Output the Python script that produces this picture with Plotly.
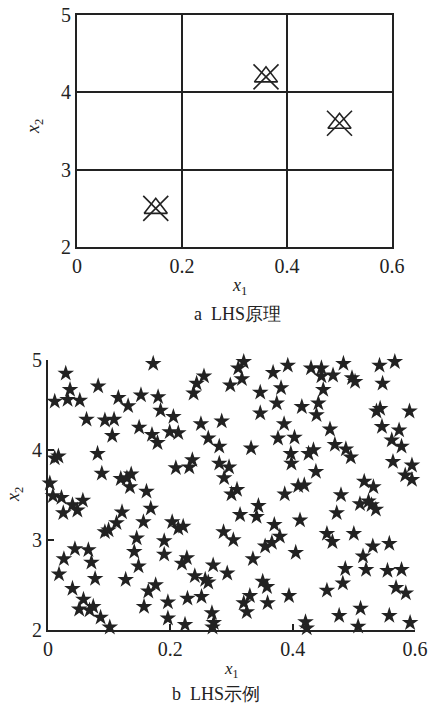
import plotly.graph_objects as go

# ---- panel a: LHS principle ----
a_x = [0.15, 0.36, 0.50]
a_y = [2.5, 4.2, 3.6]
a_xticks = [0, 0.2, 0.4, 0.6]
a_yticks = [2, 3, 4, 5]

# ---- panel b: LHS sample ----
b_x = [0.029, 0.082, 0.036, 0.011, 0.032, 0.052, 0.115, 0.063, 0.093, 0.108,
       0.105, 0.011, 0.017, 0.081, 0.088, 0.003, 0.008, 0.022, 0.040, 0.057,
       0.048, 0.025, 0.093, 0.099, 0.112, 0.044, 0.066, 0.026, 0.071, 0.018,
       0.077, 0.040, 0.058, 0.051, 0.068, 0.074, 0.086, 0.101,
       0.172, 0.131, 0.152, 0.180, 0.184, 0.205, 0.149, 0.170, 0.179, 0.199,
       0.213, 0.236, 0.231, 0.209, 0.119, 0.129, 0.136, 0.134, 0.161, 0.168,
       0.121, 0.156, 0.203, 0.213, 0.221, 0.145, 0.190, 0.141, 0.190, 0.148,
       0.219, 0.227, 0.127, 0.176, 0.164, 0.157, 0.196, 0.228, 0.196, 0.224,
       0.311, 0.320, 0.317, 0.298, 0.255, 0.243, 0.238, 0.347, 0.347, 0.250,
       0.284, 0.262, 0.280, 0.332, 0.280, 0.296, 0.288, 0.309, 0.300, 0.344,
       0.341, 0.314, 0.287, 0.303, 0.355, 0.335, 0.270, 0.293, 0.240, 0.257,
       0.262, 0.351, 0.358, 0.251, 0.330, 0.320, 0.325, 0.359, 0.268, 0.271,
       0.269,
       0.368, 0.392, 0.430, 0.447, 0.447, 0.466, 0.483, 0.381, 0.450, 0.374,
       0.415, 0.442, 0.439, 0.386, 0.461, 0.376, 0.403, 0.469, 0.487, 0.397,
       0.398, 0.426, 0.434, 0.438, 0.409, 0.419, 0.387, 0.479, 0.472, 0.412,
       0.370, 0.379, 0.366, 0.456, 0.465, 0.405, 0.486, 0.482, 0.394, 0.456,
       0.476, 0.421, 0.423,
       0.542, 0.567, 0.497, 0.502, 0.547, 0.537, 0.543, 0.591, 0.546, 0.574,
       0.562, 0.578, 0.495, 0.564, 0.595, 0.584, 0.595, 0.517, 0.532, 0.510,
       0.524, 0.529, 0.536, 0.500, 0.531, 0.558, 0.515, 0.520, 0.555, 0.578,
       0.569, 0.585, 0.511, 0.558, 0.507, 0.592]
b_y = [4.85, 4.71, 4.67, 4.54, 4.56, 4.55, 4.58, 4.34, 4.33, 4.34,
       4.16, 3.91, 3.93, 3.96, 3.74, 3.63, 3.49, 3.47, 3.39, 3.44,
       3.33, 3.30, 3.09, 3.11, 3.19, 2.90, 2.89, 2.79, 2.75, 2.62,
       2.57, 2.46, 2.34, 2.23, 2.22, 2.26, 2.14, 2.03,
       4.96, 4.49, 4.61, 4.59, 4.44, 4.37, 4.25, 4.17, 4.08, 4.20,
       4.19, 3.89, 3.81, 3.80, 3.68, 3.69, 3.73, 3.59, 3.54, 3.35,
       3.31, 3.20, 3.20, 3.13, 3.15, 3.02, 2.99, 2.87, 2.84, 2.71,
       2.74, 2.80, 2.56, 2.50, 2.43, 2.26, 2.31, 2.35, 2.13, 2.06,
       4.91, 4.98, 4.79, 4.72, 4.82, 4.74, 4.63, 4.64, 4.41, 4.29,
       4.32, 4.13, 4.04, 4.02, 3.85, 3.81, 3.69, 3.56, 3.51, 3.38,
       3.26, 3.28, 3.09, 3.00, 2.93, 2.79, 2.72, 2.63, 2.60, 2.56,
       2.53, 2.54, 2.48, 2.37, 2.38, 2.30, 2.20, 2.30, 2.19, 2.08,
       2.03,
       4.86, 4.94, 4.91, 4.91, 4.82, 4.83, 4.96, 4.69, 4.67, 4.52,
       4.48, 4.52, 4.39, 4.29, 4.23, 4.13, 4.14, 4.06, 4.01, 3.96,
       3.85, 3.96, 4.00, 3.76, 3.60, 3.61, 3.51, 3.50, 3.30, 3.22,
       3.17, 3.04, 2.97, 3.07, 2.98, 2.86, 2.68, 2.52, 2.38, 2.44,
       2.16, 2.09, 2.02,
       4.94, 4.98, 4.80, 4.76, 4.74, 4.43, 4.46, 4.43, 4.26, 4.22,
       4.11, 4.04, 3.92, 3.87, 3.83, 3.72, 3.67, 3.65, 3.59, 3.40,
       3.43, 3.39, 3.34, 3.07, 2.93, 2.96, 2.82, 2.67, 2.66, 2.67,
       2.47, 2.41, 2.24, 2.16, 2.04, 2.08]
b_xticks = [0, 0.2, 0.4, 0.6]
b_yticks = [2, 3, 4, 5]

W, H = 428, 707
INK = "#222222"
FONT = "Liberation Serif"

fig = go.Figure()

# panel a markers: triangle + cross
fig.add_trace(go.Scatter(x=a_x, y=a_y, mode="markers", xaxis="x", yaxis="y",
                         marker=dict(symbol="triangle-up-open", size=20,
                                     color=INK, line=dict(width=1.6, color=INK)),
                         showlegend=False, cliponaxis=False))
fig.add_trace(go.Scatter(x=a_x, y=a_y, mode="markers", xaxis="x", yaxis="y",
                         marker=dict(symbol="x-thin-open", size=25,
                                     color=INK, line=dict(width=1.6, color=INK)),
                         showlegend=False, cliponaxis=False))

# panel b stars
fig.add_trace(go.Scatter(x=b_x, y=b_y, mode="markers", xaxis="x2", yaxis="y2",
                         marker=dict(symbol="star", size=12.5, color=INK,
                                     line=dict(width=0)),
                         showlegend=False, cliponaxis=False))

def px2paper_x(p):
    return p / W

def px2paper_y(p):
    return 1 - p / H

tickfont = dict(family=FONT, size=20, color=INK)

fig.update_layout(
    width=W, height=H,
    margin=dict(l=0, r=0, t=0, b=0, autoexpand=False),
    paper_bgcolor="white", plot_bgcolor="white",
    font=dict(family=FONT, color=INK),
    xaxis=dict(domain=[px2paper_x(77), px2paper_x(392)], range=[0, 0.6],
               tickvals=a_xticks, ticktext=["0", "0.2", "0.4", "0.6"],
               showline=True, linecolor=INK, linewidth=2, mirror=True,
               showgrid=True, gridcolor=INK, gridwidth=2, zeroline=False,
               ticks="", tickfont=tickfont, anchor="y", automargin=False),
    yaxis=dict(domain=[px2paper_y(247), px2paper_y(15)], range=[2, 5],
               tickvals=a_yticks, ticktext=["2", "3", "4", "5"],
               showline=True, linecolor=INK, linewidth=2, mirror=True,
               showgrid=True, gridcolor=INK, gridwidth=2, zeroline=False,
               ticks="", tickfont=tickfont, anchor="x", automargin=False),
    xaxis2=dict(domain=[px2paper_x(48), px2paper_x(415)], range=[0, 0.6],
                tickvals=b_xticks, ticktext=["0", "0.2", "0.4", "0.6"],
                showline=True, linecolor=INK, linewidth=2, mirror=False,
                showgrid=False, zeroline=False,
                ticks="inside", ticklen=6, tickwidth=1.5, tickcolor=INK,
                tickfont=tickfont, anchor="y2", automargin=False),
    yaxis2=dict(domain=[px2paper_y(630), px2paper_y(360)], range=[2, 5],
                tickvals=b_yticks, ticktext=["2", "3", "4", "5"],
                showline=True, linecolor=INK, linewidth=2, mirror=False,
                showgrid=False, zeroline=False,
                ticks="inside", ticklen=6, tickwidth=1.5, tickcolor=INK,
                tickfont=tickfont, anchor="x2", automargin=False),
)

def ann(text, xp, yp, size=18, angle=0):
    fig.add_annotation(text=text, x=px2paper_x(xp), y=px2paper_y(yp),
                       xref="paper", yref="paper", showarrow=False,
                       textangle=angle, xanchor="center", yanchor="middle",
                       font=dict(family=FONT, size=size, color=INK))

ann("<i>x</i><sub>1</sub>", 240, 286)
ann("<i>x</i><sub>2</sub>", 35, 127, angle=-90)
ann("a  LHS原理", 237, 314, size=18)
ann("<i>x</i><sub>1</sub>", 232, 670, size=17)
ann("<i>x</i><sub>2</sub>", 14, 494, angle=-90)
ann("b  LHS示例", 216, 694, size=18)

fig.write_html("out.html",
               config={"displayModeBar": False},
               post_script="document.body.style.margin='0';"
                           "document.body.style.overflow='hidden';")
